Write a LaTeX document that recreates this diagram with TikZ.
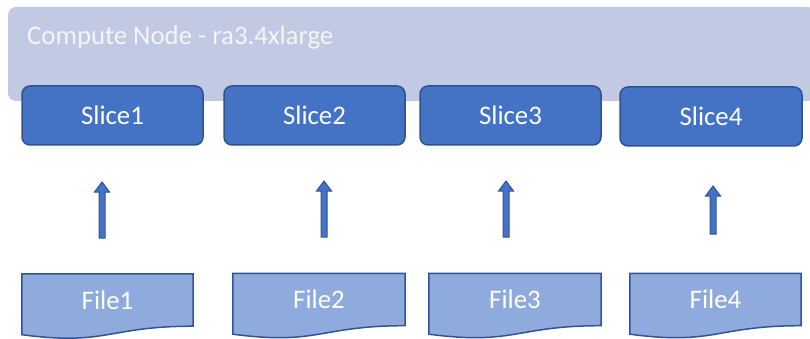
\documentclass[tikz,border=0pt]{standalone}
\usepackage{fontspec}
\setmainfont{Carlito}
\usetikzlibrary{backgrounds,calc}
\definecolor{cnfill}{HTML}{C1C9E3}
\definecolor{cntext}{HTML}{F4F5FA}
\definecolor{slicefill}{HTML}{4472C4}
\definecolor{sliceline}{HTML}{2F528F}
\definecolor{filefill}{HTML}{8FAADC}
\definecolor{fileline}{HTML}{2F5597}
\tikzset{
  bigfont/.style={font=\fontsize{26.8}{31}\selectfont},
  computebox/.style={fill=cnfill, rounded corners=8pt, minimum width=808pt, minimum height=94pt, inner sep=0pt},
  computelabel/.style={bigfont, text=cntext, inner sep=0pt, anchor=base west},
  slicebox/.style={draw=sliceline, fill=slicefill, line width=1.5pt, rounded corners=8pt, text=white, bigfont, minimum height=59pt, inner sep=0pt},
  filetext/.style={text=white, bigfont, minimum height=52pt, inner sep=0pt},
  fileshape/.style={draw=fileline, fill=filefill, line width=1.5pt, line join=miter},
  blockarr/.style={draw=fileline, fill=slicefill, line width=1pt, line join=miter},
}
\begin{document}
\begin{tikzpicture}[x=1pt,y=-1pt]
\useasboundingbox (0,0) rectangle (810,339);
% compute node
\node[computebox] (cn) at (412,54) {};
\node[computelabel] (cnlabel) at (27,45) {Compute Node - ra3.4xlarge};
% slices
\node[slicebox, minimum width=181pt] (s1) at (112.5,115.5) {Slice1};
\node[slicebox, minimum width=181pt] (s2) at (314.5,115.5) {Slice2};
\node[slicebox, minimum width=181pt] (s3) at (510.5,115.5) {Slice3};
\node[slicebox, minimum width=182pt] (s4) at (711,116.5) {Slice4};
% files
\node[filetext, minimum width=171pt] (f1) at (107.5,300) {File1};
\node[filetext, minimum width=172pt] (f2) at (319,299.5) {File2};
\node[filetext, minimum width=172pt] (f3) at (515,299.5) {File3};
\node[filetext, minimum width=171pt] (f4) at (715.5,299.5) {File4};
\begin{pgfonlayer}{background}
\foreach \f in {f1,f2,f3,f4}{
  \draw[fileshape] (\f.north west) -- (\f.north east) -- (\f.south east)
    .. controls (\f.south) and ($(\f.south)+(0,19.8)$) .. ($(\f.south west)+(0,8.5)$) -- cycle;
}
\end{pgfonlayer}
% arrows
\coordinate (a1s) at (102,238); \coordinate (a1e) at (102,182);
\coordinate (a2s) at (324,237); \coordinate (a2e) at (324,181);
\coordinate (a3s) at (506,237); \coordinate (a3e) at (506,181);
\coordinate (a4s) at (713,234); \coordinate (a4e) at (713,186);
\foreach \i in {1,2,3,4}{
  \draw[blockarr] ($(a\i s)+(-3,0)$) -- ($(a\i e)+(-3,10)$) -- ($(a\i e)+(-7.5,10)$) -- (a\i e)
    -- ($(a\i e)+(7.5,10)$) -- ($(a\i e)+(3,10)$) -- ($(a\i s)+(3,0)$) -- cycle;
}
\end{tikzpicture}
\end{document}
